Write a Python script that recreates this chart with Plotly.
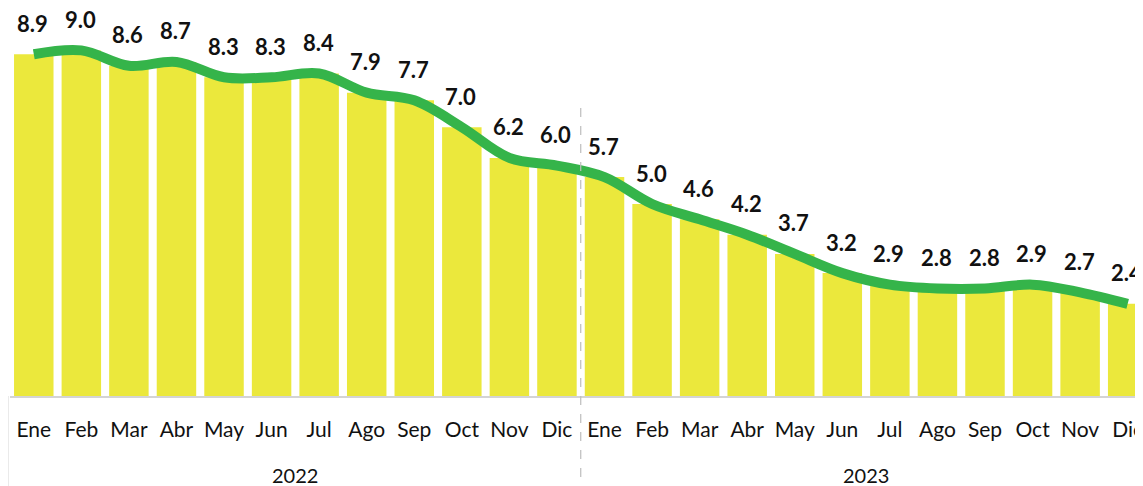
import plotly.graph_objects as go

months = ["Ene", "Feb", "Mar", "Abr", "May", "Jun", "Jul", "Ago", "Sep", "Oct", "Nov", "Dic",
          "Ene", "Feb", "Mar", "Abr", "May", "Jun", "Jul", "Ago", "Sep", "Oct", "Nov", "Dic"]
years = ["2022", "2023"]
values = [8.9, 9.0, 8.6, 8.7, 8.3, 8.3, 8.4, 7.9, 7.7, 7.0, 6.2, 6.0,
          5.7, 5.0, 4.6, 4.2, 3.7, 3.2, 2.9, 2.8, 2.8, 2.9, 2.7, 2.4]

x = list(range(len(months)))
FONT = "Lato, 'Open Sans', sans-serif"
BAR = "#EBE83C"
LINE = "#35B44A"
GRID = "#D4D4D4"

PLOT_H = 388

fig = go.Figure()
fig.add_trace(go.Bar(x=x, y=values, marker=dict(color=BAR, line=dict(width=0)),
                     hoverinfo="skip"))
fig.add_trace(go.Scatter(x=x, y=values, mode="lines",
                         line=dict(color=LINE, width=10, shape="spline", smoothing=1.0),
                         hoverinfo="skip"))

for xi, v in zip(x, values):
    fig.add_annotation(x=xi, y=v, text=f"<b>{v:.1f}</b>", showarrow=False,
                       yshift=31, xshift=-1, font=dict(family=FONT, size=22, color="#111111"))

XMIN, XMAX = -0.5, 23.28
n_per_year = 12
for i, yr in enumerate(years):
    center = i * n_per_year + (n_per_year - 1) / 2
    fig.add_annotation(x=center, y=-79 / PLOT_H, yref="paper", text=yr, showarrow=False,
                       font=dict(family=FONT, size=20, color="#111111"), yanchor="middle")

def xpaper(v):
    return (v - XMIN) / (XMAX - XMIN)

fig.add_shape(type="line", xref="paper", yref="paper", x0=xpaper(-0.5) - 0.002, x1=xpaper(-0.5) - 0.002,
              y0=0, y1=-95 / PLOT_H, line=dict(color=GRID, width=1.5))
fig.add_shape(type="line", xref="paper", yref="paper", x0=xpaper(11.5), x1=xpaper(11.5),
              y0=(396 - 108) / PLOT_H, y1=-95 / PLOT_H, line=dict(color="#BDBDBD", width=1.2, dash="dash"))

fig.update_layout(
    width=1135, height=478,
    margin=dict(l=2, r=0, t=0, b=90),
    paper_bgcolor="white", plot_bgcolor="white",
    showlegend=False, bargap=0.17,
    font=dict(family=FONT, color="#111111"),
    xaxis=dict(range=[XMIN, XMAX], tickmode="array", tickvals=x, ticktext=months,
               showgrid=False, zeroline=False, showline=True, linecolor=GRID, linewidth=2,
               ticks="outside", ticklen=14, tickcolor="rgba(0,0,0,0)",
               ticklabeloverflow="allow",
               tickfont=dict(family=FONT, size=21, color="#111111")),
    yaxis=dict(range=[0, PLOT_H / 38.4], visible=False, showgrid=False, zeroline=False),
)

fig.write_html("out.html")
